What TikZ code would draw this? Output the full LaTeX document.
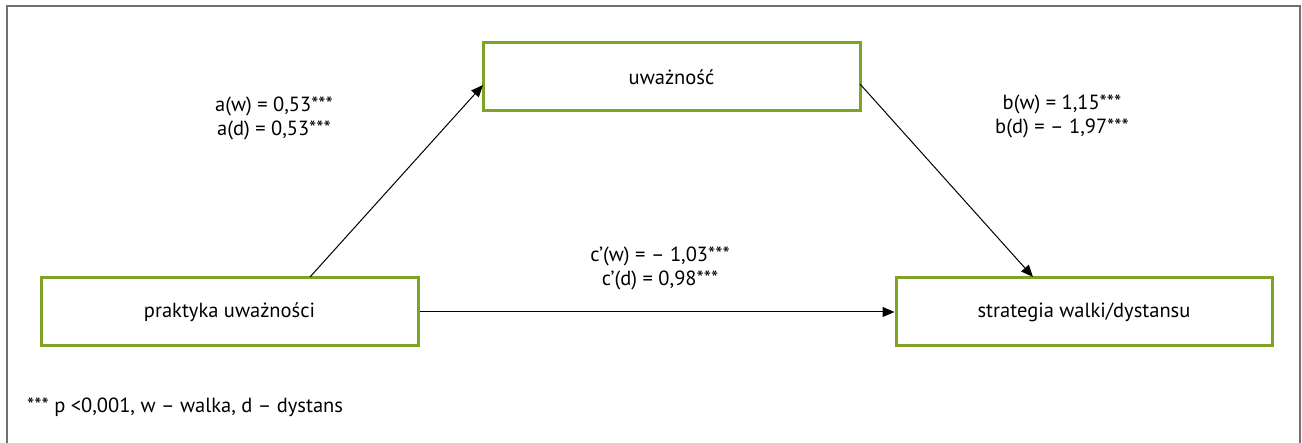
\documentclass[tikz,border=0pt]{standalone}
\usepackage{fontspec}
\setmainfont{PT Sans}
\usetikzlibrary{arrows.meta}
\definecolor{boxgreen}{HTML}{7FA324}
\definecolor{framegray}{HTML}{707070}
\begin{document}
\begin{tikzpicture}[x=1pt,y=-1pt,
  vbox/.style={draw=boxgreen,line width=3pt,fill=white,minimum width=377pt,minimum height=68pt,inner sep=0pt,font=\fontsize{20.5}{24}\selectfont},
  lbl/.style={align=center,font=\fontsize{20.5}{24}\selectfont,inner sep=0pt},
  conn/.style={-{Triangle[length=12pt,width=10pt]},line width=1pt}]
\useasboundingbox (0,0) rectangle (1302,443);
\draw[framegray,line width=1.8pt] (7,443) -- (7,6) -- (1300,6) -- (1300,443);
\node[vbox] (m) at (671.5,77) {uważność};
\node[vbox] (x) at (229.5,312) {praktyka uważności};
\node[vbox,minimum width=376pt] (y) at (1084,312) {strategia walki/dystansu};
\coordinate (xs) at (310,277);
\coordinate (mt) at (483,85);
\coordinate (ms) at (860,84);
\coordinate (yt) at (1033,277);
\draw[conn] (xs) -- (mt);
\draw[conn] (ms) -- (yt);
\draw[conn] (x.east) -- (y.west);
\node[lbl] (la) at (274,118) {a(w) = 0,53***\\a(d) = 0,53***};
\node[lbl] (lb) at (1062,116) {b(w) = 1,15***\\b(d) = – 1,97***};
\node[lbl] (lc) at (660,268) {c’(w) = – 1,03***\\c’(d) = 0,98***};
\node[font=\fontsize{20.5}{24}\selectfont,anchor=west,inner sep=0pt] (fn) at (27,407) {*** p <0,001, w – walka, d – dystans};
\end{tikzpicture}
\end{document}
